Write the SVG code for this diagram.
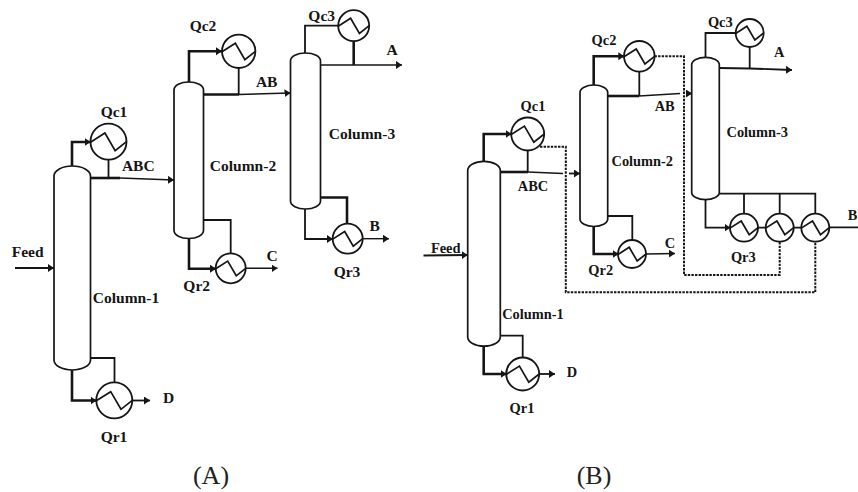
<svg xmlns="http://www.w3.org/2000/svg" width="858" height="492" viewBox="0 0 858 492">
<style>
text{font-family:"Liberation Serif","Times New Roman",serif;fill:#151515}
.a text,text.a{font-weight:bold;font-size:15.5px;text-anchor:middle}
.b text,text.b{font-weight:bold;font-size:14.4px;text-anchor:middle}
.cap{font-size:26px;text-anchor:middle;fill:#222}
.col{fill:#fff;stroke:#151515;stroke-width:1.7}
.hx circle{fill:#fff;stroke:#151515;stroke-width:1.8}
#z{fill:none;stroke:#151515;stroke-width:1.7}
#connectors path{fill:none;stroke:#151515;stroke-width:1.8}
#connectors path.t{stroke-width:2.6}
#connectors path.n{stroke-width:1.4}
#connectors path.d{stroke-width:2;stroke-dasharray:2.4 1.2}
#connectors path.m{marker-end:url(#ah)}
</style>
<defs>
<marker id="ah" markerUnits="userSpaceOnUse" markerWidth="8" markerHeight="9" refX="6" refY="4" orient="auto"><path d="M0 0L6 4L0 8Z" fill="#151515"/></marker>
<path id="z" vector-effect="non-scaling-stroke" d="M-1 .03L-.2 -.48L.37 .5L1 0"/>
</defs>

<g id="connectors">
<!-- A -->
<path class="t m" d="M72 167V142H90.5"/>
<path d="M108.5 159V178"/>
<path class="t" d="M90.5 178H120"/>
<path class="n m" d="M120 178L174 180"/>
<path class="t m" d="M189 83V51.3H222"/>
<path d="M238.7 68V94.5"/>
<path class="t" d="M203.5 94.5H239"/>
<path class="n m" d="M239 94.5L290.5 93"/>
<path d="M305 54V25.7H338.5"/>
<path class="t" d="M353.7 41V65"/>
<path class="n" d="M320.5 65H353"/>
<path class="n m" d="M353 65H402"/>
<path class="m" d="M305 209V239H333"/>
<path class="t" d="M320.5 197.5H347V224"/>
<path class="n m" d="M362.5 238.7H389"/>
<path class="t m" d="M189 238V268.7H216"/>
<path d="M203.5 220H230.7V254"/>
<path class="n m" d="M245.5 268.3H277.5"/>
<path class="t m" d="M72 369V400.5H96.5"/>
<path d="M90.5 358H114.5V383"/>
<path class="m" d="M132 400.5H150"/>
<path class="m" d="M15 268H54"/>
<!-- B -->
<path class="t m" d="M483.7 162V134H511.5"/>
<path d="M527.7 150V172"/>
<path class="t" d="M500.3 172H528"/>
<path class="n" d="M528 172L563 173.5"/>
<path class="m" d="M569 173.5H580"/>
<path class="d" d="M540 146.7H565.8V292.3H815.3V241"/>
<path class="t m" d="M593.7 86V56.3H624.3"/>
<path d="M639.3 71V96"/>
<path class="t" d="M607.7 96H639"/>
<path class="n" d="M639 96L680 93.5"/>
<path class="m" d="M686 93.5H692"/>
<path class="d" d="M654.5 56.3H684V275H779.7V241"/>
<path d="M705.5 58V33H736"/>
<path d="M749.7 46V68.5"/>
<path class="m" d="M719.3 68L750 68.5L792 70"/>
<path class="m" d="M705.5 199V227.7H730.5"/>
<path d="M719.3 193.7H815.3V214M744 193.7V214M779.7 193.7V214"/>
<path d="M758 227.7H766M793.7 227.7H801.5M829 227.3H858"/>
<path class="t m" d="M593.7 226V254H618.5"/>
<path d="M607.7 216H632.3V241"/>
<path class="n m" d="M646 254L675 253.5"/>
<path class="t m" d="M483.7 346V374H506.5"/>
<path d="M500.3 335.7H522.7V358"/>
<path class="m" d="M539 374H555"/>
<path class="m" d="M423.5 255.5L467.7 255"/>
</g>

<g id="a-column-1" class="a"><path class="col" d="M54 176A18.25 10 0 0 1 90.5 176V360A18.25 10 0 0 1 54 360Z"/><text x="126" y="303.3">Column-1</text></g>
<g id="a-column-2" class="a"><path class="col" d="M174 90A14.75 8 0 0 1 203.5 90V230.5A14.75 8 0 0 1 174 230.5Z"/><text x="243" y="171">Column-2</text></g>
<g id="a-column-3" class="a"><path class="col" d="M290.5 61A15 8 0 0 1 320.5 61V201A15 8 0 0 1 290.5 201Z"/><text x="362" y="139">Column-3</text></g>

<g id="a-qc1" class="a hx"><circle cx="108.5" cy="141.7" r="18"/><use href="#z" transform="translate(108.5 141.7) scale(18)"/><text x="114" y="117">Qc1</text></g>
<g id="a-qc2" class="a hx"><circle cx="238.7" cy="51.3" r="16.7"/><use href="#z" transform="translate(238.7 51.3) scale(16.7)"/><text x="203" y="30.7">Qc2</text></g>
<g id="a-qc3" class="a hx"><circle cx="353.7" cy="25.7" r="15.5"/><use href="#z" transform="translate(353.7 25.7) scale(15.5)"/><text x="321.7" y="20.7">Qc3</text></g>
<g id="a-qr1" class="a hx"><circle cx="114.3" cy="400.3" r="18"/><use href="#z" transform="translate(114.3 400.3) scale(18)"/><text x="114" y="442.3">Qr1</text></g>
<g id="a-qr2" class="a hx"><circle cx="230.7" cy="268.3" r="15"/><use href="#z" transform="translate(230.7 268.3) scale(15)"/><text x="196.7" y="291.3">Qr2</text></g>
<g id="a-qr3" class="a hx"><circle cx="347.7" cy="238.7" r="15"/><use href="#z" transform="translate(347.7 238.7) scale(15)"/><text x="347" y="276.7">Qr3</text></g>

<g id="a-labels" class="a">
<text x="138.3" y="171">ABC</text><text x="266.7" y="87.3">AB</text><text x="392" y="55">A</text><text x="374.7" y="231">B</text><text x="272" y="261">C</text><text x="168.7" y="403">D</text><text x="27.7" y="257.3">Feed</text>
</g>
<text class="cap" x="211" y="484">(A)</text>

<g id="b-column-1" class="b"><path class="col" d="M467.7 170.5A16.3 9.2 0 0 1 500.3 170.5V337A16.3 9.2 0 0 1 467.7 337Z"/><text x="533" y="318.7">Column-1</text></g>
<g id="b-column-2" class="b"><path class="col" d="M580 92.5A13.85 7.5 0 0 1 607.7 92.5V219A13.85 7.5 0 0 1 580 219Z"/><text x="642.3" y="165.7">Column-2</text></g>
<g id="b-column-3" class="b"><path class="col" d="M691.7 64.5A13.8 7.2 0 0 1 719.3 64.5V192.5A13.8 7.2 0 0 1 691.7 192.5Z"/><text x="757.3" y="137.3">Column-3</text></g>

<g id="b-qc1" class="b hx"><circle cx="527.7" cy="134" r="16.5"/><use href="#z" transform="translate(527.7 134) scale(16.5)"/><text x="533" y="110.7">Qc1</text></g>
<g id="b-qc2" class="b hx"><circle cx="639.3" cy="56.3" r="15.3"/><use href="#z" transform="translate(639.3 56.3) scale(15.3)"/><text x="604" y="45.3">Qc2</text></g>
<g id="b-qc3" class="b hx"><circle cx="749.7" cy="33" r="14"/><use href="#z" transform="translate(749.7 33) scale(14)"/><text x="720.3" y="27.3">Qc3</text></g>
<g id="b-qr1" class="b hx"><circle cx="522.7" cy="374" r="16.5"/><use href="#z" transform="translate(522.7 374) scale(16.5)"/><text x="522" y="413">Qr1</text></g>
<g id="b-qr2" class="b hx"><circle cx="632" cy="254" r="14"/><use href="#z" transform="translate(632 254) scale(14)"/><text x="600.7" y="275">Qr2</text></g>
<g id="b-qr3a" class="b hx"><circle cx="744" cy="227.7" r="14"/><use href="#z" transform="translate(744 227.7) scale(14)"/><text x="743.3" y="262">Qr3</text></g>
<g id="b-qr3b" class="hx"><circle cx="779.7" cy="227.7" r="14"/><use href="#z" transform="translate(779.7 227.7) scale(14)"/></g>
<g id="b-qr3c" class="hx"><circle cx="815.3" cy="227.7" r="14"/><use href="#z" transform="translate(815.3 227.7) scale(14)"/></g>

<g id="b-labels" class="b">
<text x="533" y="191">ABC</text><text x="664.7" y="110.7">AB</text><text x="779.3" y="56.7">A</text><text x="670" y="247.7">C</text><text x="572" y="377">D</text><text x="445.7" y="253">Feed</text><text x="852.5" y="220">B</text>
</g>
<text class="cap" x="594" y="484">(B)</text>
</svg>
